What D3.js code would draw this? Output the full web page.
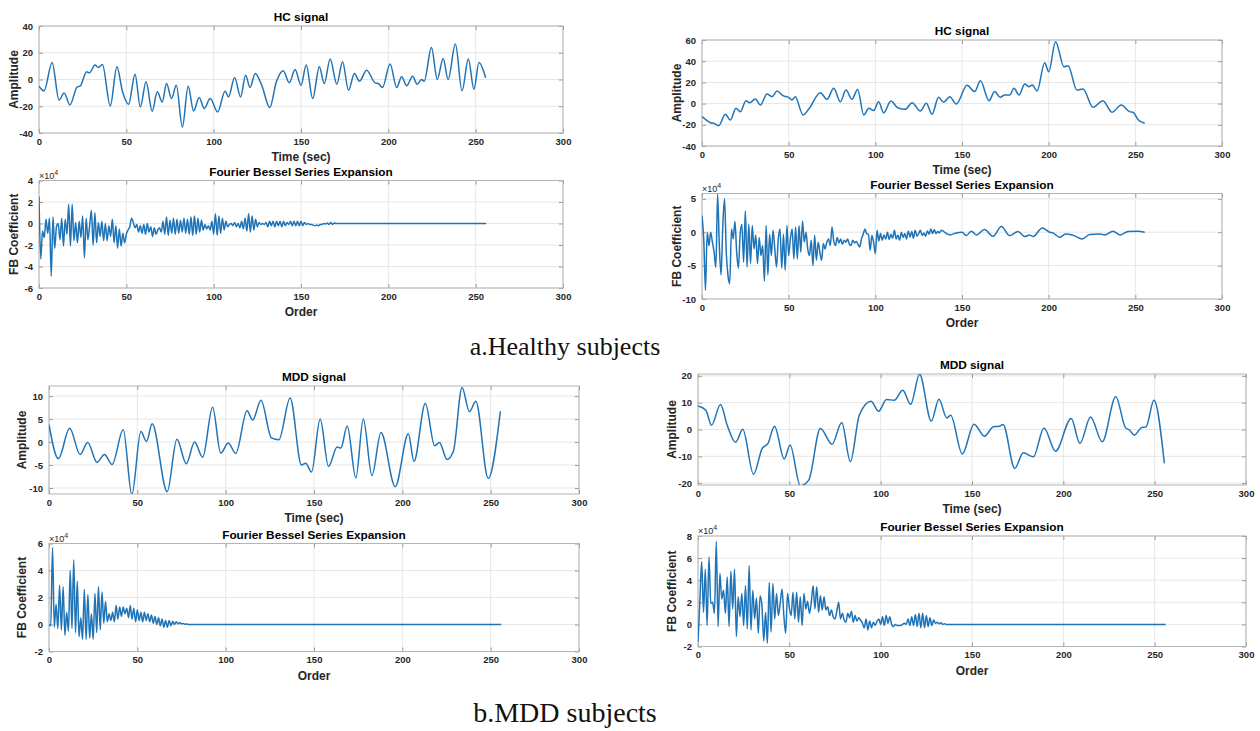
<!DOCTYPE html>
<html>
<head>
<meta charset="utf-8">
<script src="https://cdn.jsdelivr.net/npm/d3@7"></script>
<style>
  body { margin: 0; background: #fff; }
  text { font-family: "Liberation Sans", Arial, sans-serif; }
</style>
</head>
<body>
<svg id="fig" width="1260" height="731"></svg>
<script>
const X_TICKS = [0, 50, 100, 150, 200, 250, 300];
const LINE_COLOR = "#1f74b8";

// HC (healthy) raw signals: [time, amplitude]
const hcSignalA = [[0,-5],[2.9,-8.5],[7.5,12.75],[11.5,-15.5],[14.4,-10],[17.7,-19],[21.9,-5.5],[23.5,-5],[27.3,5.75],[28.8,5],
  [32.1,10.75],[34,9],[36.3,11.25],[40.8,-19.75],[44.6,9.5],[47.8,-9],[51.3,-18.5],[55,4],[58,-20.5],[61.3,-1.75],[64.8,-23.75],
  [67.7,-9.25],[70.6,-16.75],[73,-3],[75.9,-14.25],[78.6,-4.25],[82.1,-35.5],[85.4,-5],[88.5,-23.5],[91.7,-13.5],[94.6,-21.75],
  [98,-14.25],[102.3,-24.25],[106.5,-8.75],[108.5,-13],[112,1.5],[115.4,-13],[118.3,3.25],[120.8,-6],[123.8,4.5],[127.7,-5],
  [132.1,-21],[135.9,-1.75],[139.8,6.5],[143.3,-2.5],[146.6,7.5],[150,-4.25],[153,10.75],[156.7,-14.25],[160.5,9.5],[163.3,-3],
  [166.7,15.25],[170.5,-3.5],[173.8,13.25],[177.2,-8],[180.6,4.5],[183.5,-1.25],[187.6,7],[192.4,-2.5],[194.3,-3],[196.6,-6],
  [201,11.5],[204.8,-6],[207.6,2],[210.5,-4.75],[213.9,2.5],[216.5,-3.5],[219,0],[220.5,-1.25],[224.7,24],[228,0],[231.4,15.75],
  [234.2,0],[238.4,26.5],[242.2,-8.5],[245.8,15.25],[249,-7.25],[251.9,12.75],[255.7,1.25]];

const hcSignalB = [[0,-12.3],[2.9,-16],[4.8,-18],[6.7,-18.6],[9.6,-20.8],[13.5,-10],[16.3,-15.5],[19.6,-4.5],[22.1,-7.6],[25.4,2.8],
  [27.5,0.9],[30.8,4.3],[33.7,-1.3],[37.5,9],[40.4,6.5],[43.3,11.9],[46.7,7.5],[50,5.9],[51.9,3.4],[53.8,6.5],[58.3,-10.8],
  [61.5,-5.4],[68.3,10.3],[72.1,4],[76,14.4],[79.8,1.8],[83.1,12.8],[86.5,4],[89.8,13.4],[93.3,-10.8],[96.2,-4.5],[99,-6.6],
  [101.9,1.8],[104.8,-8.7],[109,2.4],[112.9,-3.9],[117.3,-5.4],[121.2,0.9],[126,-7],[129.4,0.3],[132.7,-10],[136.5,5.9],
  [139.4,1.2],[142.9,6.5],[146.7,-0.4],[152.9,17.2],[157.3,11.3],[160.6,21.6],[165.6,2.8],[168.8,11.3],[172.1,5.9],[174.6,8.1],
  [177.5,8.1],[180,14.4],[182.9,8.1],[186.2,18.4],[188.5,16],[190.6,17.5],[193.3,11.9],[197.7,38.6],[200,30],[204,58.4],
  [208.8,34.8],[211.2,35.8],[216.3,12.8],[219.8,13.8],[225.6,-3.5],[231.3,2.8],[236.5,-8.2],[241.9,-1.3],[246.7,-7.6],
  [248.7,-8.2],[251.5,-14.9],[255.4,-18.6]];

// FB coefficients (x10^4), one value per order starting at order 0
const fbHealthyA = [2.5,-3.3,-0.7,-1.3,0.4,-0.9,0.5,-4.9,0.6,-2.3,
  -0.3,0,-1.5,0.5,-2.1,0.4,-1.0,1.8,-2.1,1.8,
  -1.6,0.1,-1.8,0.2,-1.3,0.7,-3.2,0.5,-1.5,-0.2,
  1.2,-2.0,1.0,-1.8,0.1,-1.2,0.2,-1.6,0.0,-1.6,
  -0.2,-1.2,0.4,-1.8,-0.2,-2.3,-0.5,-2.1,-0.9,-1.8,
  -1.0,-0.6,-0.3,0.5,0.1,-0.4,-0.1,-0.8,-0.2,-0.9,
  -0.1,-1.0,0.0,-0.8,-0.3,-1.2,-0.4,-1.0,-0.6,-0.4,
  -0.8,0.2,-1.0,0.6,-1.1,0.3,-0.9,0.5,-1.0,0.4,
  -0.9,0.3,-0.8,0.5,-0.9,0.4,-1.0,0.6,-1.1,0.7,
  -1.0,0.5,-0.8,0.3,-0.6,-0.1,-0.5,-0.2,-0.6,0.2,
  -1.0,0.9,-1.1,0.7,-0.9,0.5,-0.6,0.2,-0.3,-0.1,
  0.0,-0.2,0.1,-0.3,0.0,-0.4,0.2,-0.5,0.5,-0.7,
  0.9,-0.8,0.7,-0.6,0.4,-0.3,0.1,-0.1,0.0,-0.1,
  0.1,-0.3,0.2,-0.2,0.2,-0.3,0.2,-0.2,0.2,-0.3,
  0.2,-0.2,0.1,-0.1,0.2,-0.2,0.2,-0.2,0.2,-0.2,
  0.2,-0.2,0.1,-0.1,0.0,-0.1,-0.1,-0.15,-0.2,-0.15,
  -0.2,-0.1,-0.1,0.0,-0.05,0.05,-0.1,0.1,-0.1,0.05,
  0.0];
const fbHealthyATail = [[256,0]];

const fbHealthyB = [2.5,-1.0,-8.7,0.0,-2.0,0.0,-1.5,-3.0,-5.3,5.7,
  -2.0,-6.4,1.0,5.0,-3.0,-6.5,-7.7,0.5,-1.0,1.6,
  -3.0,-5.4,-0.3,1.2,-4.5,3.2,-5.2,1.2,-4.7,1.0,
  -2.5,-0.4,-4.7,-0.8,-3.5,-2.0,-7.3,1.0,-6.4,-0.3,
  -3.5,0.3,-2.5,-5.2,-1.0,0.5,-5.4,-0.3,-5.7,1.0,
  -3.5,-1.0,0.5,-4.0,0.8,-4.0,1.0,-3.0,1.7,-1.5,
  0.0,-2.5,-3.5,-1.2,-5.0,-0.5,-4.2,-1.5,-3.0,-4.2,
  -1.7,-2.5,-1.5,-1.0,-2.0,0.8,-1.3,-2.0,-0.8,-1.6,
  -1.0,-1.8,-1.2,-1.5,-1.0,-1.8,-2.0,-1.2,-1.6,-1.4,
  -1.8,-2.2,-1.0,-0.3,0.5,-0.2,-0.3,-2.7,-0.5,-1.5,
  -3.2,0.3,-1.3,-0.2,-1.2,-0.4,-1.0,0.0,-1.1,-0.3,
  -0.9,0.3,-1.0,-0.4,-1.2,0.0,-0.8,-0.2,-1.0,0.2,
  -0.7,0.1,-0.9,0.3,-0.6,-0.2,0.3,-0.5,-0.1,-0.6,
  0.2,-0.3,0.5,-0.2,0.4,-0.2,0.1,-0.1,0.3,0.2,
  0.0,-0.2,-0.3];
const fbHealthyBTail = [[143,-0.4],[146.7,-0.1],[150,0],[152.5,-0.5],[155.4,0.15],[158.3,-0.4],[163,0.4],[167.9,-0.6],
  [172.7,0.85],[177.5,-0.5],[182.3,0.1],[186.2,-0.65],[189,-0.4],[191,-0.65],[196.3,0.65],[200.6,0],[202.5,-0.1],
  [206.3,-0.75],[209.8,-0.25],[213.7,-0.4],[219.4,-1],[223.6,-0.35],[229.4,-0.25],[232.3,-0.4],[237.1,0.15],
  [241.3,-0.4],[245.8,0.1],[251.5,0.15],[255.4,0]];

// MDD raw signals: [time, amplitude]
const mddSignalA = [[0,3.8],[5.3,-3.6],[11.7,3.0],[17.6,-2.7],[21.9,-0.1],[27.2,-4.4],[31.4,-2.7],[35.7,-4.9],[42,2.7],
  [46.9,-11.4],[52,2.3],[55.2,0.15],[58.4,4],[66.9,-10.8],[72.4,0.6],[77.7,-4.7],[82.4,0],[87,-3.3],[92.6,7.6],[97.2,-2.4],
  [101.5,-0.2],[105.7,-2.5],[112.1,6.8],[115.3,4.8],[120,9.1],[125.9,0.9],[130.1,0.5],[136.5,9.6],[142.9,-5],[145.3,-4.6],
  [148.6,-6.5],[153.5,5],[158.2,-5.3],[163.1,-1.1],[165.2,-1.3],[168.8,3.5],[173.7,-7.8],[177.9,5],[182.8,-7.3],[187.9,2.1],
  [196,-9.7],[203.4,1.8],[206.6,-4.2],[213,8.4],[218.3,-0.8],[221,-0.1],[225.3,-3.8],[228.9,-2],[233.8,11.9],[238,6.6],
  [241.6,8.9],[248.6,-7.9],[255.5,6.7]];

const mddSignalB = [[0,8.8],[4.3,7.2],[7.4,1.6],[12.3,9.3],[16,1.6],[20.6,-4.8],[24.5,0.1],[30.4,-16.7],[35.1,-7.1],[38.3,-5.2],
  [41.9,1.2],[47.2,-11],[50.4,-5.8],[56,-21],[60.6,-18.9],[67,0.4],[73.4,-5.5],[78.7,2.6],[83.4,-12],[88.3,5.3],[94.7,10.5],
  [98.9,6.8],[103.2,11.2],[107.4,10.9],[112.1,14.6],[116.4,9.4],[121.3,20.6],[127.7,3.1],[131.9,11.3],[136.2,4.3],[138.3,5.3],
  [144.7,-9.1],[151.1,2],[156.8,-2.5],[161.7,1],[164.9,1.2],[167,1.9],[173.4,-14.5],[178.1,-8.7],[183.6,-10.2],[189.4,0.6],
  [195.7,-8.1],[204.3,4.1],[209.1,-5.2],[214.9,4.7],[221.3,-4.6],[228.7,12.2],[234,0.7],[236.2,-0.2],[238.9,-2.1],[242.6,0.6],
  [245.3,1],[249.6,10.9],[255.3,-12.6]];

const fbMddA = [0.0,-0.1,5.7,-0.2,1.5,-0.3,2.9,-0.4,2.8,-0.8,
  0.9,-0.5,4.0,-0.3,4.8,-0.6,3.2,-0.9,0.5,-1.1,
  2.6,-1.1,2.2,-1.0,0.8,-1.1,2.3,-0.6,2.8,-0.4,
  2.4,0.1,1.7,0.2,0.8,0.3,0.9,0.2,1.4,0.4,
  1.3,0.6,1.3,0.8,1.2,0.5,1.4,0.4,1.2,0.2,
  1.1,0.3,0.9,0.2,0.9,0.3,0.8,0.2,0.7,0.1,
  0.6,0.0,0.5,-0.1,0.4,-0.2,0.3,-0.2,0.3,-0.1,
  0.25,0.0,0.2,0.05,0.15,0.05,0.08,0.02,0.04,0.0,
  0.0];
const fbMddATail = [[256,0]];

const fbMddB = [-1.6,2.0,5.7,1.1,5.0,-0.1,6.1,1.9,2.0,1.0,
  7.5,-0.2,4.6,2.3,3.1,1.0,4.3,-0.2,4.8,1.4,
  5.0,-1.1,2.5,0.7,2.8,-0.1,3.5,-0.4,5.3,-0.5,
  3.1,0.5,2.4,-0.8,2.6,1.7,-1.5,1.1,-1.7,3.8,
  -0.7,3.7,0.5,2.8,0.8,1.9,3.2,0.8,-0.8,2.8,
  1.5,0.8,2.9,0.5,2.9,0.2,2.5,-0.1,2.8,1.4,
  2.1,1.0,2.0,3.5,1.4,3.4,1.1,2.6,1.3,2.5,
  1.3,1.6,0.8,1.3,0.7,0.5,1.2,2.0,0.5,1.0,
  0.4,0.2,1.0,0.6,1.2,0.2,0.8,0.3,0.6,0.4,
  0.1,-0.3,0.5,-0.5,0.3,-0.3,0.2,-0.1,0.3,0.5,
  0.0,0.7,-0.1,0.8,0.1,0.7,0.0,-0.2,0.0,-0.1,
  -0.1,-0.1,0.0,0.1,0.0,0.5,-0.1,0.7,-0.1,0.9,
  -0.2,1.0,-0.3,1.0,-0.3,0.8,-0.2,0.6,-0.1,0.4,
  0.1,0.2,0.05,0.15,0.0,0.05,0.0];
const fbMddBTail = [[256,0]];

const byOrder = (vals, tail) => vals.map((v, i) => [i, v]).concat(tail);

const panels = [
  {title: "HC signal", xLabel: "Time (sec)", yLabel: "Amplitude", data: hcSignalA,
   yDomain: [-40, 40], yTicks: [-40, -20, 0, 20, 40], left: 39, right: 563, top: 26, bottom: 133, yLabelX: 14},
  {title: "Fourier Bessel Series Expansion", xLabel: "Order", yLabel: "FB Coefficient", data: byOrder(fbHealthyA, fbHealthyATail),
   yDomain: [-6, 4], yTicks: [-6, -4, -2, 0, 2, 4], left: 39, right: 563, top: 180.5, bottom: 288, yLabelX: 14, exp: true},
  {title: "HC signal", xLabel: "Time (sec)", yLabel: "Amplitude", data: hcSignalB,
   yDomain: [-40, 60], yTicks: [-40, -20, 0, 20, 40, 60], left: 702, right: 1222, top: 40, bottom: 146, yLabelX: 677},
  {title: "Fourier Bessel Series Expansion", xLabel: "Order", yLabel: "FB Coefficient", data: byOrder(fbHealthyB, fbHealthyBTail),
   yDomain: [-10, 5.8], yTicks: [-10, -5, 0, 5], left: 702, right: 1222, top: 193.5, bottom: 299, yLabelX: 677, exp: true},
  {title: "MDD signal", xLabel: "Time (sec)", yLabel: "Amplitude", data: mddSignalA,
   yDomain: [-11.3, 12.2], yTicks: [-10, -5, 0, 5, 10], left: 49, right: 579, top: 386, bottom: 494, yLabelX: 22},
  {title: "Fourier Bessel Series Expansion", xLabel: "Order", yLabel: "FB Coefficient", data: byOrder(fbMddA, fbMddATail),
   yDomain: [-2, 6], yTicks: [-2, 0, 2, 4, 6], left: 49, right: 579, top: 543.5, bottom: 651.5, yLabelX: 22, exp: true},
  {title: "MDD signal", xLabel: "Time (sec)", yLabel: "Amplitude", data: mddSignalB,
   yDomain: [-20.7, 20.7], yTicks: [-20, -10, 0, 10, 20], left: 698, right: 1246, top: 374, bottom: 485, yLabelX: 672},
  {title: "Fourier Bessel Series Expansion", xLabel: "Order", yLabel: "FB Coefficient", data: byOrder(fbMddB, fbMddBTail),
   yDomain: [-2, 8], yTicks: [-2, 0, 2, 4, 6, 8], left: 698, right: 1246, top: 536, bottom: 646.5, yLabelX: 672, exp: true}
];

const svg = d3.select("#fig");

function drawPanel(p, idx) {
  const x = d3.scaleLinear().domain([0, 300]).range([p.left, p.right]);
  const y = d3.scaleLinear().domain(p.yDomain).range([p.bottom, p.top]);
  const g = svg.append("g");

  // grid
  g.selectAll(".gx").data(X_TICKS).join("line")
    .attr("x1", d => x(d)).attr("x2", d => x(d))
    .attr("y1", p.top).attr("y2", p.bottom)
    .attr("stroke", "#e6e6e6").attr("stroke-width", 1);
  g.selectAll(".gy").data(p.yTicks).join("line")
    .attr("x1", p.left).attr("x2", p.right)
    .attr("y1", d => y(d)).attr("y2", d => y(d))
    .attr("stroke", "#e6e6e6").attr("stroke-width", 1);

  // axes, ticks pointing inward like matlab
  const fmt = d => String(d);
  const styleAxis = sel => {
    sel.select(".domain").remove();
    sel.selectAll(".tick line").attr("stroke", "#9a9a9a");
    sel.selectAll("text").attr("fill", "#262626").style("font-size", "9.5px").style("font-weight", "bold");
  };
  g.append("g").attr("transform", `translate(0,${p.bottom})`)
    .call(d3.axisBottom(x).tickValues(X_TICKS).tickFormat(fmt).tickSizeInner(-4).tickSizeOuter(0).tickPadding(5))
    .call(styleAxis);
  g.append("g").attr("transform", `translate(0,${p.top})`)
    .call(d3.axisTop(x).tickValues(X_TICKS).tickFormat("").tickSizeInner(-4).tickSizeOuter(0))
    .call(styleAxis);
  g.append("g").attr("transform", `translate(${p.left},0)`)
    .call(d3.axisLeft(y).tickValues(p.yTicks).tickFormat(fmt).tickSizeInner(-4).tickSizeOuter(0).tickPadding(6))
    .call(styleAxis);
  g.append("g").attr("transform", `translate(${p.right},0)`)
    .call(d3.axisRight(y).tickValues(p.yTicks).tickFormat("").tickSizeInner(-4).tickSizeOuter(0))
    .call(styleAxis);

  g.append("rect")
    .attr("x", p.left).attr("y", p.top)
    .attr("width", p.right - p.left).attr("height", p.bottom - p.top)
    .attr("fill", "none").attr("stroke", "#b4b4b4").attr("stroke-width", 1);

  // clipped signal
  const clipId = "clip" + idx;
  g.append("clipPath").attr("id", clipId).append("rect")
    .attr("x", p.left).attr("y", p.top)
    .attr("width", p.right - p.left).attr("height", p.bottom - p.top);
  const line = d3.line().x(d => x(d[0])).y(d => y(d[1])).curve(d3.curveMonotoneX);
  g.append("path").datum(p.data)
    .attr("clip-path", `url(#${clipId})`)
    .attr("d", line)
    .attr("fill", "none").attr("stroke", LINE_COLOR).attr("stroke-width", 1.5)
    .attr("stroke-linejoin", "round");

  const cx = (p.left + p.right) / 2;
  g.append("text").attr("x", cx).attr("y", p.top - 9)
    .attr("text-anchor", "middle").attr("dominant-baseline", "central")
    .style("font-size", "11.8px").style("font-weight", "bold").attr("fill", "#000")
    .text(p.title);
  g.append("text").attr("x", cx).attr("y", p.bottom + 24)
    .attr("text-anchor", "middle").attr("dominant-baseline", "central")
    .style("font-size", "12px").style("font-weight", "bold").attr("fill", "#262626")
    .text(p.xLabel);
  g.append("text")
    .attr("transform", `translate(${p.yLabelX},${(p.top + p.bottom) / 2}) rotate(-90)`)
    .attr("text-anchor", "middle").attr("dominant-baseline", "central")
    .style("font-size", "12px").style("font-weight", "bold").attr("fill", "#262626")
    .text(p.yLabel);

  if (p.exp) {
    const t = g.append("text").attr("x", p.left).attr("y", p.top - 2)
      .style("font-size", "9px").attr("fill", "#262626");
    t.append("tspan").text("\u00d710");
    t.append("tspan").attr("dy", -4).style("font-size", "7px").text("4");
  }
}

panels.forEach(drawPanel);

// sub-figure captions
svg.append("text").attr("x", 565).attr("y", 355)
  .attr("text-anchor", "middle")
  .style("font-family", "'Liberation Serif', 'Times New Roman', serif").style("font-size", "26px")
  .attr("fill", "#111").text("a.Healthy subjects");
svg.append("text").attr("x", 565).attr("y", 722)
  .attr("text-anchor", "middle")
  .style("font-family", "'Liberation Serif', 'Times New Roman', serif").style("font-size", "28px")
  .attr("fill", "#111").text("b.MDD subjects");
</script>
</body>
</html>
